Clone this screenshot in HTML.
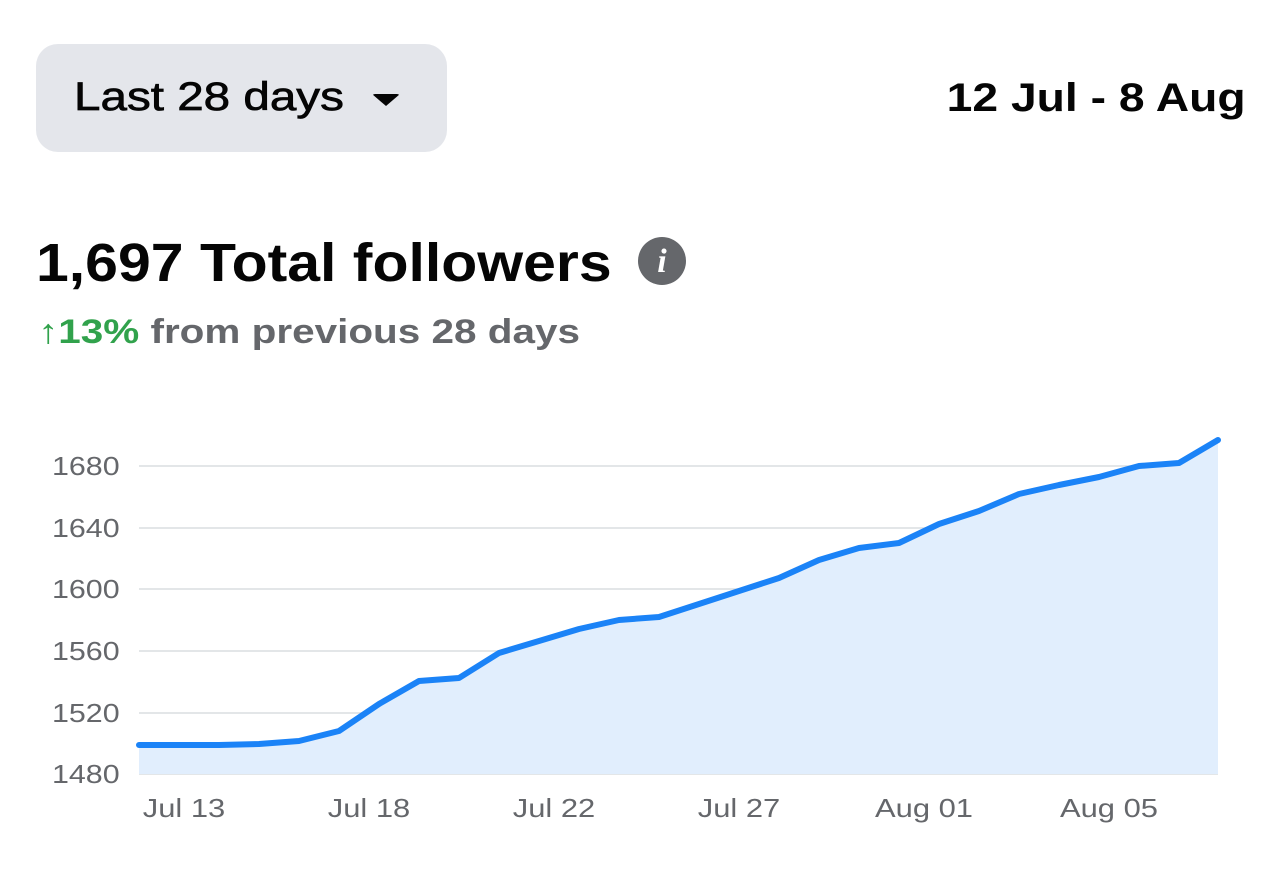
<!DOCTYPE html>
<html><head><meta charset="utf-8"><style>
html,body{margin:0;padding:0;background:#fff;width:1284px;height:885px;overflow:hidden;font-family:"Liberation Sans",sans-serif;}
.btn{position:absolute;left:36px;top:44px;width:411px;height:108px;background:#e4e6eb;border-radius:22px;}
.btn span{position:absolute;left:38px;top:31px;font-size:40px;color:#050505;-webkit-text-stroke:0.7px #050505;transform:scaleX(1.19);transform-origin:left;white-space:nowrap;}
.tri{position:absolute;left:336px;top:50px;width:0;height:0;border-left:14px solid transparent;border-right:14px solid transparent;border-top:12px solid #050505;border-radius:3px;}
.date{position:absolute;right:38px;top:76px;font-size:40px;font-weight:bold;color:#050505;transform:scaleX(1.156);transform-origin:right;white-space:nowrap;}
.title{position:absolute;left:36px;top:232px;font-size:54px;font-weight:bold;color:#050505;transform:scaleX(1.092);transform-origin:left;white-space:nowrap;}
.info{position:absolute;left:638px;top:237px;width:48px;height:48px;border-radius:50%;background:#65676b;color:#fff;font:italic bold 34px "Liberation Serif",serif;text-align:center;line-height:50px;}
.sub{position:absolute;left:38px;top:313px;font-size:34px;color:#65676b;font-weight:bold;transform:scaleX(1.19);transform-origin:left;white-space:nowrap;}
.sub b{color:#31a24c;}
.yl{transform:scaleX(1.17);transform-box:fill-box;transform-origin:left;}
.xl{transform:scaleX(1.19);transform-box:fill-box;transform-origin:center;}
</style></head><body>
<div class="btn"><span>Last 28 days</span><div class="tri"></div></div>
<div class="date">12 Jul - 8 Aug</div>
<div class="title">1,697 Total followers</div>
<div class="info">i</div>
<div class="sub"><b>↑13%</b> from previous 28 days</div>
<svg width="1284" height="885" style="position:absolute;left:0;top:0">
<g stroke="#dadde1" stroke-width="1.5">
<line x1="139" x2="1218" y1="466" y2="466"/><line x1="139" x2="1218" y1="528" y2="528"/>
<line x1="139" x2="1218" y1="589" y2="589"/><line x1="139" x2="1218" y1="651" y2="651"/>
<line x1="139" x2="1218" y1="713" y2="713"/><line x1="139" x2="1218" y1="774" y2="774"/>
</g>
<g font-size="26" fill="#65676b" font-family="Liberation Sans,sans-serif">
<text class="yl" x="52" y="475">1680</text><text class="yl" x="52" y="537">1640</text><text class="yl" x="52" y="598">1600</text>
<text class="yl" x="52" y="660">1560</text><text class="yl" x="52" y="722">1520</text><text class="yl" x="52" y="783">1480</text>
<g text-anchor="middle"><text class="xl" x="184" y="817">Jul 13</text><text class="xl" x="369" y="817">Jul 18</text><text class="xl" x="554" y="817">Jul 22</text><text class="xl" x="739" y="817">Jul 27</text><text class="xl" x="924" y="817">Aug 01</text><text class="xl" x="1109" y="817">Aug 05</text></g>
</g>
<polygon fill="#e1eefd" points="139,774 139,745 179,745 219,745 259,744 299,741 339,731 379,704 419,681 459,678 499,653 539,641 579,629 619,620 659,617 699,604 739,591 779,578 819,560 859,548 899,543 939,524 979,511 1019,494 1059,485 1099,477 1139,466 1179,463 1218,440 1218,774"/>
<polyline fill="none" stroke="#1b83f7" stroke-width="6" stroke-linejoin="round" stroke-linecap="round" points="139,745 179,745 219,745 259,744 299,741 339,731 379,704 419,681 459,678 499,653 539,641 579,629 619,620 659,617 699,604 739,591 779,578 819,560 859,548 899,543 939,524 979,511 1019,494 1059,485 1099,477 1139,466 1179,463 1218,440"/>
</svg>
</body></html>
